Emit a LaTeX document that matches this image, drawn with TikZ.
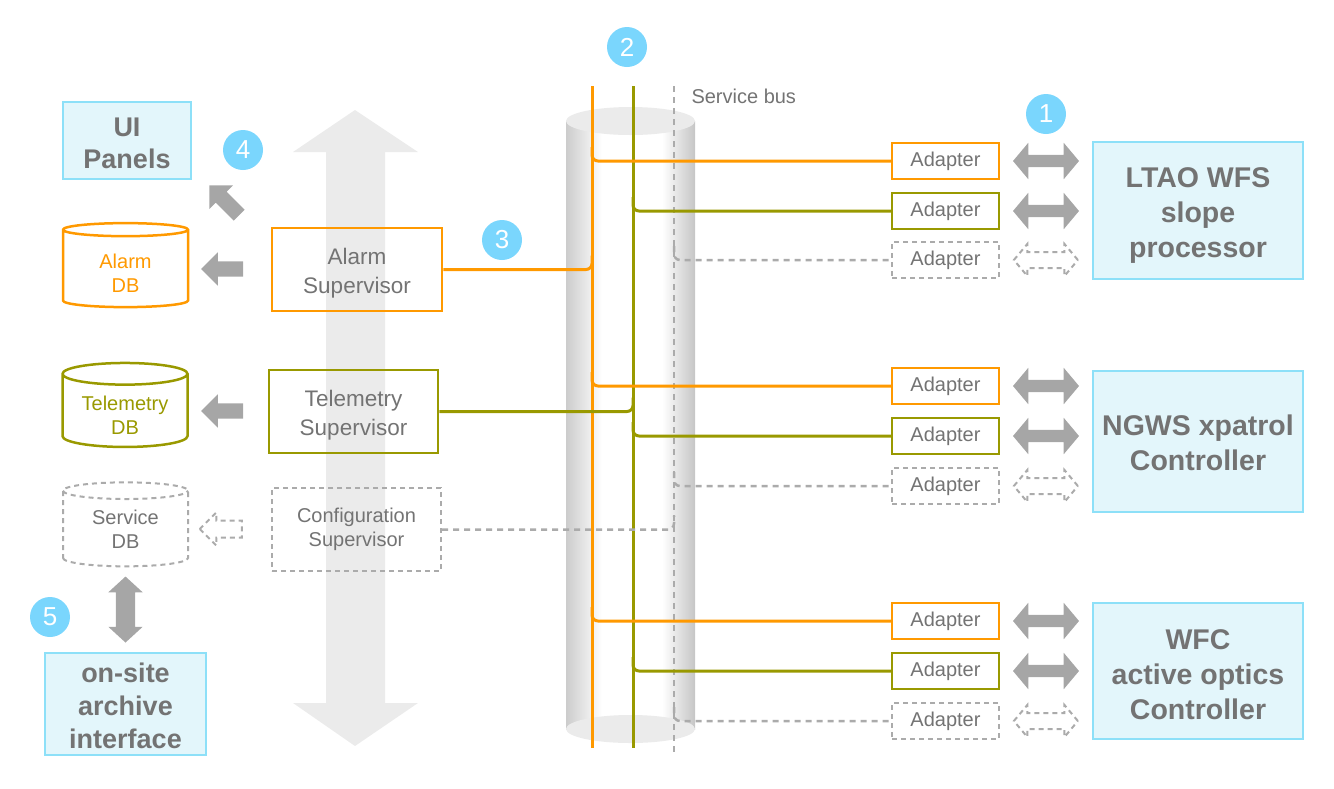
\documentclass[tikz,border=0pt]{standalone}
\usepackage{fontspec}
\setmainfont{Liberation Sans}
\usetikzlibrary{shapes.geometric, shapes.arrows, calc}

\definecolor{busorange}{HTML}{FF9900}
\definecolor{busolive}{HTML}{999900}
\definecolor{dashgray}{HTML}{ABABAB}
\definecolor{txtgray}{HTML}{737373}
\definecolor{arrgray}{HTML}{A6A6A6}
\definecolor{biggray}{HTML}{EBEBEB}
\definecolor{devfill}{HTML}{E3F6FB}
\definecolor{devline}{HTML}{8DE0F8}
\definecolor{badgeblue}{HTML}{7AD6FD}
% strut on a first line, moves the text block down a little
\newcommand{\tpad}[1]{\rule{0pt}{#1}}

\begin{document}
\begin{tikzpicture}[x=1pt, y=-1pt,
  device/.style={draw=devline, fill=devfill, line width=2.5pt, align=center, inner sep=0pt, text=txtgray, font=\fontsize{28.5}{35}\selectfont\bfseries},
  adbox/.style={draw=#1, line width=2.5pt, minimum width=107pt, minimum height=36pt, inner sep=0pt, text=txtgray, font=\fontsize{20}{24}\selectfont},
  adboxd/.style={draw=dashgray, line width=2pt, dash pattern=on 5pt off 4pt, minimum width=107pt, minimum height=36pt, inner sep=0pt, text=txtgray, font=\fontsize{20}{24}\selectfont},
  supbox/.style={draw=#1, line width=2.5pt, minimum width=170pt, minimum height=83pt, align=center, inner sep=0pt, text=txtgray, font=\fontsize{22.5}{29}\selectfont},
  dbcyl/.style={cylinder, shape border rotate=90, aspect=0.25, draw=#1, line width=2.5pt, minimum width=125pt, minimum height=84pt, align=center, inner sep=0pt, font=\fontsize{20}{24}\selectfont},
  dblarr/.style={double arrow, fill=arrgray, minimum height=66pt, inner xsep=0pt, inner ysep=6pt, double arrow head extend=12pt, double arrow tip angle=100},
  dblarrd/.style={double arrow, draw=dashgray, line width=2pt, dash pattern=on 5pt off 4pt, minimum height=64pt, inner xsep=0pt, inner ysep=7pt, double arrow head extend=8pt, double arrow tip angle=100},
  sarr/.style={single arrow, fill=arrgray, minimum height=42pt, inner xsep=0pt, inner ysep=7.5pt, single arrow head extend=9pt},
  sarrd/.style={single arrow, draw=dashgray, line width=2pt, dash pattern=on 5pt off 4pt, minimum height=42pt, inner xsep=0pt, inner ysep=7.5pt, single arrow head extend=8pt},
  badge/.style={circle, fill=badgeblue, minimum size=40pt, inner sep=0pt, text=white, font=\fontsize{26}{26}\selectfont},
  obus/.style={draw=busorange, line width=3pt},
  gbus/.style={draw=busolive, line width=3pt},
  sbus/.style={draw=dashgray, line width=2.5pt, dash pattern=on 6pt off 5pt}
]
\useasboundingbox (0,0) rectangle (1334,788);

% big up/down arrow behind the supervisors
\fill[biggray] (355,110) -- (418,152) -- (385,152) -- (385,703) -- (418,703) -- (355,746)
  -- (293,703) -- (326,703) -- (326,152) -- (293,152) -- cycle;

% service bus cylinder
\fill[white] (566,121) rectangle (695,729);
\shade[left color=gray!40, right color=white] (566,121) rectangle (602,729);
\shade[left color=white, right color=gray!45] (662,121) rectangle (695,729);
\fill[biggray] (630.5,729) ellipse [x radius=64.5, y radius=14];
\fill[biggray] (630.5,121) ellipse [x radius=64.5, y radius=14];

% bus lines
\coordinate (otop) at (592,86);
\coordinate (obot) at (592,748);
\coordinate (gtop) at (633,86);
\coordinate (gbot) at (633,748);
\coordinate (stop) at (674,86);
\coordinate (sbot) at (674,752);
\draw[obus] (otop) -- (obot);
\draw[gbus] (gtop) -- (gbot);
\draw[sbus] (stop) -- (sbot);
\node[anchor=west, text=txtgray, font=\fontsize{20}{22}\selectfont] (buslbl) at (688,96) {Service bus};

% external systems
\node[device, minimum width=210pt, minimum height=137pt] (ltao) at (1198,210.5) {\tpad{30.4pt}LTAO WFS\\slope\\processor};
\node[device, minimum width=210pt, minimum height=141pt] (ngws) at (1198,441.5) {\tpad{23.4pt}NGWS xpatrol\\Controller};
\node[device, minimum width=210pt, minimum height=136pt] (wfc) at (1198,671) {\tpad{26.4pt}WFC\\active optics\\Controller};
\node[device, minimum width=128pt, minimum height=77pt, font=\fontsize{27}{32}\selectfont\bfseries] (ui) at (127,140.5) {\tpad{23.3pt}UI\\Panels};
\node[device, minimum width=161pt, minimum height=102pt, font=\fontsize{27}{33}\selectfont\bfseries] (archive) at (125.5,704) {\tpad{23.3pt}on-site\\archive\\interface};

% adapters
\node[adbox=busorange] (a1) at (945.5,161) {Adapter};
\node[adbox=busolive] (a2) at (945.5,211) {Adapter};
\node[adboxd] (a3) at (945.5,260) {Adapter};
\node[adbox=busorange] (a4) at (945.5,386) {Adapter};
\node[adbox=busolive] (a5) at (945.5,436) {Adapter};
\node[adboxd] (a6) at (945.5,486) {Adapter};
\node[adbox=busorange] (a7) at (945.5,621) {Adapter};
\node[adbox=busolive] (a8) at (945.5,671) {Adapter};
\node[adboxd] (a9) at (945.5,721) {Adapter};

% bus taps to adapters
\draw[obus, rounded corners=6pt] ($(a1.west -| otop)+(0,-14)$) |- (a1.west);
\draw[gbus, rounded corners=6pt] ($(a2.west -| gtop)+(0,-14)$) |- (a2.west);
\draw[sbus, rounded corners=6pt] ($(a3.west -| stop)+(0,-14)$) |- (a3.west);
\draw[obus, rounded corners=6pt] ($(a4.west -| otop)+(0,-14)$) |- (a4.west);
\draw[gbus, rounded corners=6pt] ($(a5.west -| gtop)+(0,-14)$) |- (a5.west);
\draw[sbus, rounded corners=6pt] ($(a6.west -| stop)+(0,-14)$) |- (a6.west);
\draw[obus, rounded corners=6pt] ($(a7.west -| otop)+(0,-14)$) |- (a7.west);
\draw[gbus, rounded corners=6pt] ($(a8.west -| gtop)+(0,-14)$) |- (a8.west);
\draw[sbus, rounded corners=6pt] ($(a9.west -| stop)+(0,-14)$) |- (a9.west);

% adapter <-> device arrows
\node[dblarr] (x1) at ($(a1.east)!0.5!(a1.east -| ltao.west)$) {};
\node[dblarr] (x2) at ($(a2.east)!0.5!(a2.east -| ltao.west)$) {};
\node[dblarrd] (x3) at ($(a3.east)!0.5!(a3.east -| ltao.west)$) {};
\node[dblarr] (x4) at ($(a4.east)!0.5!(a4.east -| ngws.west)$) {};
\node[dblarr] (x5) at ($(a5.east)!0.5!(a5.east -| ngws.west)$) {};
\node[dblarrd] (x6) at ($(a6.east)!0.5!(a6.east -| ngws.west)$) {};
\node[dblarr] (x7) at ($(a7.east)!0.5!(a7.east -| wfc.west)$) {};
\node[dblarr] (x8) at ($(a8.east)!0.5!(a8.east -| wfc.west)$) {};
\node[dblarrd] (x9) at ($(a9.east)!0.5!(a9.east -| wfc.west)$) {};

% supervisors
\node[supbox=busorange] (alarmsup) at (357,269.5) {\tpad{24.1pt}Alarm\\Supervisor};
\node[supbox=busolive, minimum width=169pt] (telsup) at (353.5,411.5) {\tpad{24.1pt}Telemetry\\Supervisor};
\node[supbox=dashgray, dash pattern=on 5pt off 4pt, line width=2pt, minimum width=169pt, font=\fontsize{20}{24}\selectfont] (confsup) at (356.5,529.5) {Configuration\\Supervisor};

\draw[obus, rounded corners=6pt] (alarmsup.east) -| ($(alarmsup.east -| otop)+(0,-14)$);
\draw[gbus, rounded corners=6pt] (telsup.east) -| ($(telsup.east -| gtop)+(0,-14)$);
\draw[sbus, rounded corners=6pt] (confsup.east) -| ($(confsup.east -| stop)+(0,-14)$);

% databases
\node[dbcyl=busorange, text=busorange] (alarmdb) at (125.5,269) {\tpad{22.3pt}Alarm\\DB};
\node[dbcyl=busolive, text=busolive] (teldb) at (125,411) {\tpad{22.3pt}Telemetry\\DB};
\node[dbcyl=dashgray, dash pattern=on 5pt off 4pt, line width=2pt, text=txtgray] (servdb) at (125.5,529) {Service\\DB};

% arrows to the left
\node[sarr, rotate=135] (uiarr) at (227,203) {};
\node[sarr, shape border rotate=180] (alarmarr) at (226,269) {};
\node[sarr, shape border rotate=180] (telarr) at (226,411) {};
\node[sarrd, shape border rotate=180] (servarr) at (225,529) {};
\node[dblarr, rotate=90, inner ysep=9.5pt, double arrow head extend=7.5pt, double arrow tip angle=95] (arcarr) at ($(servdb.south)!0.5!(archive.north)$) {};

% badges
\node[badge] (b1) at (1046,114) {1};
\node[badge] (b2) at (627,47) {2};
\node[badge] (b3) at (502,240) {3};
\node[badge] (b4) at (243,150) {4};
\node[badge] (b5) at (50,617) {5};
\end{tikzpicture}
\end{document}
